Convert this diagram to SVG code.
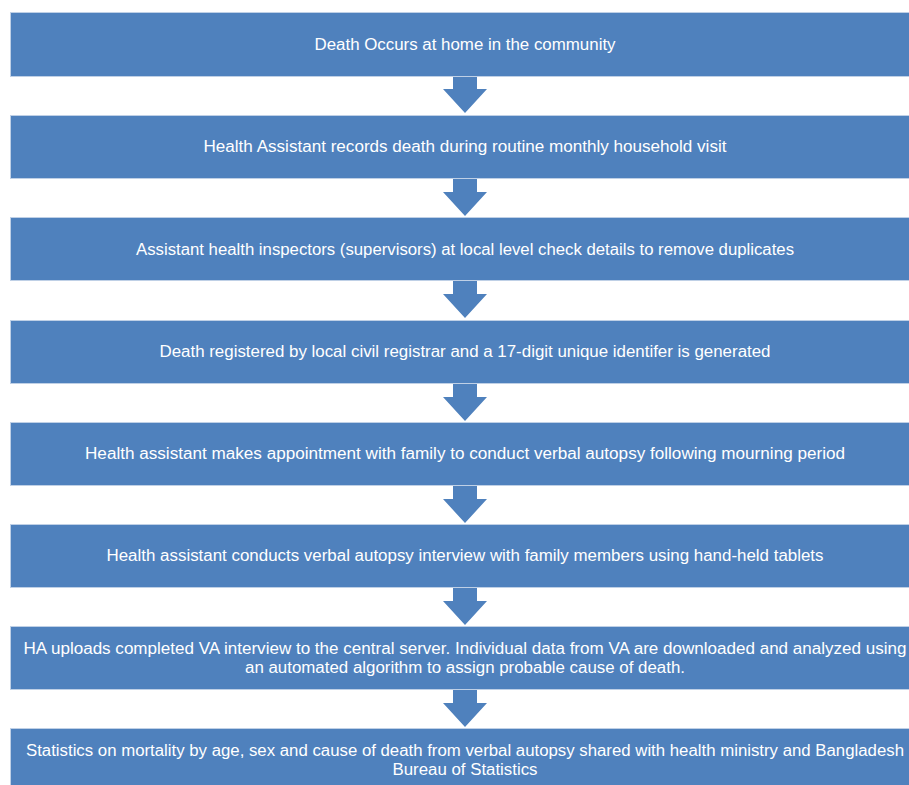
<svg xmlns="http://www.w3.org/2000/svg" width="909" height="785" viewBox="0 0 909 785">
<style>
.box{fill:#4F81BD;stroke:#BFD0E6;stroke-width:1}
.arr{fill:#4F81BD}
text{font-family:"Liberation Sans",Arial,sans-serif;font-size:16px;fill:#ffffff;text-anchor:middle}
</style>
<rect width="909" height="785" fill="#ffffff"/>
<g id="connectors">
<path class="arr" d="M453,75 H477 V89 H487 L465,113 L443,89 H453 Z"/>
<path class="arr" d="M453,178 H477 V192 H487 L465,216 L443,192 H453 Z"/>
<path class="arr" d="M453,280 H477 V294 H487 L465,318 L443,294 H453 Z"/>
<path class="arr" d="M453,383 H477 V397 H487 L465,421 L443,397 H453 Z"/>
<path class="arr" d="M453,485 H477 V499 H487 L465,523 L443,499 H453 Z"/>
<path class="arr" d="M453,587 H477 V601 H487 L465,625 L443,601 H453 Z"/>
<path class="arr" d="M453,689 H477 V703 H487 L465,727 L443,703 H453 Z"/>
</g>
<g id="n1"><rect class="box" x="10.5" y="12.5" width="910" height="64"/>
<text x="465" y="50" textLength="301" lengthAdjust="spacingAndGlyphs">Death Occurs at home in the community</text></g>
<g id="n2"><rect class="box" x="10.5" y="115.5" width="910" height="63"/>
<text x="465" y="152" textLength="523" lengthAdjust="spacingAndGlyphs">Health Assistant records death during routine monthly household visit</text></g>
<g id="n3"><rect class="box" x="10.5" y="217.5" width="910" height="63"/>
<text x="465" y="255" textLength="658" lengthAdjust="spacingAndGlyphs">Assistant health inspectors (supervisors) at local level check details to remove duplicates</text></g>
<g id="n4"><rect class="box" x="10.5" y="320.5" width="910" height="63"/>
<text x="465" y="357" textLength="611" lengthAdjust="spacingAndGlyphs">Death registered by local civil registrar and a 17-digit unique identifer is generated</text></g>
<g id="n5"><rect class="box" x="10.5" y="422.5" width="910" height="63"/>
<text x="465" y="459" textLength="760" lengthAdjust="spacingAndGlyphs">Health assistant makes appointment with family to conduct verbal autopsy following mourning period</text></g>
<g id="n6"><rect class="box" x="10.5" y="524.5" width="910" height="63"/>
<text x="465" y="561" textLength="717" lengthAdjust="spacingAndGlyphs">Health assistant conducts verbal autopsy interview with family members using hand-held tablets</text></g>
<g id="n7"><rect class="box" x="10.5" y="626.5" width="910" height="63"/>
<text x="465" y="654" textLength="883" lengthAdjust="spacingAndGlyphs">HA uploads completed VA interview to the central server.  Individual data from VA are downloaded and analyzed using</text>
<text x="465" y="673" textLength="440" lengthAdjust="spacingAndGlyphs">an automated algorithm to assign probable cause of death.</text></g>
<g id="n8"><rect class="box" x="10.5" y="728.5" width="910" height="70"/>
<text x="465" y="756" textLength="878" lengthAdjust="spacingAndGlyphs">Statistics on mortality by age, sex and cause of death from verbal autopsy shared with health ministry and Bangladesh</text>
<text x="465" y="775" textLength="145" lengthAdjust="spacingAndGlyphs">Bureau of Statistics</text></g>
</svg>
